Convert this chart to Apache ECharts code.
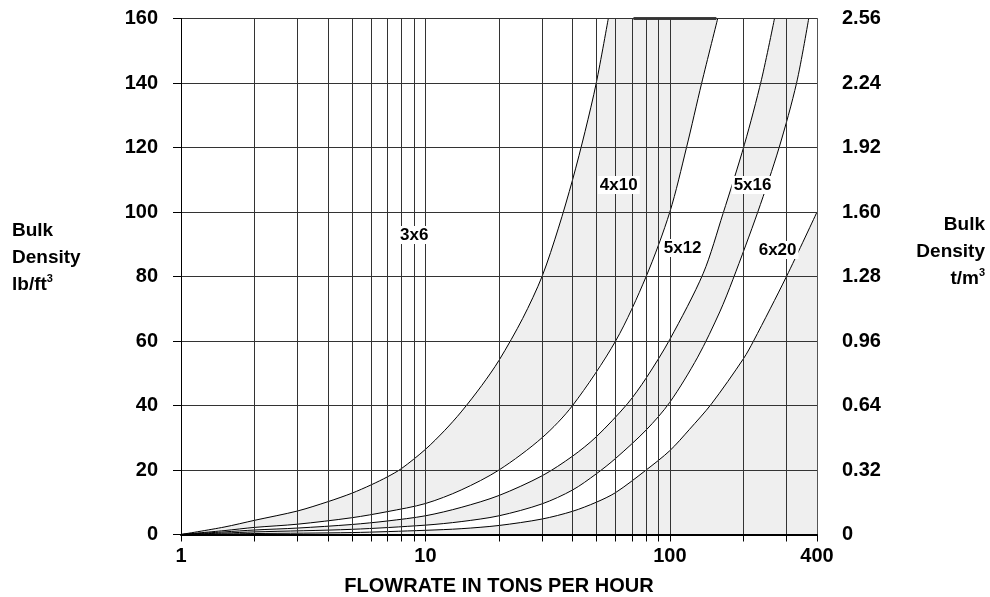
<!DOCTYPE html>
<html><head><meta charset="utf-8">
<script src="https://cdn.jsdelivr.net/npm/echarts@6/dist/echarts.min.js"></script>
<style>html,body{margin:0;padding:0;background:#fff}#c{width:990px;height:597px}</style>
</head><body><div id="c"></div>
<script>
// ---- data ----
const xGridValues = [1,2,3,4,5,6,7,8,9,10,20,30,40,50,60,70,80,90,100,200,300,400];
const xLabelValues = [1,10,100,400];
const yGridValues = [0,20,40,60,80,100,120,140,160];
const curveNames = ['3x6','4x10','5x12','5x16','6x20'];
const curve3x6 = [[1,0],[1.5,2.3],[2,4.4],[3,7.3],[4,10.2],[5,12.8],[6,15.4],[7,17.9],[8,20.5],[10,26.4],[12,32.3],[14,38],[17,46.2],[20,54],[25,67],[30,80],[35,95],[40,110],[45,125],[50,140],[56,160]];
const curve4x10 = [[1,0],[1.5,1.2],[2,2.2],[3,3.2],[5,5.2],[7,7.1],[10,9.6],[14,13.8],[20,20],[30,30],[40,40],[60,60],[80,80],[100,100],[117,120],[135,140],[157,160]];
const curve5x12 = [[1,0],[1.5,0.8],[2,1.4],[3,2.0],[5,3.1],[7,4.2],[10,5.8],[14,8.4],[20,12.1],[30,18.2],[40,24.3],[50,30.3],[67,40.5],[80,48.5],[100,60.5],[137,81],[165,99.5],[202,121],[237,141],[268,160]];
const curve5x16 = [[1,0],[1.5,0.45],[2,0.8],[5,1.6],[10,2.9],[14,4.0],[20,5.8],[30,9.5],[40,13.8],[50,18.8],[60,23.6],[80,32.4],[100,41],[130,55],[160,69],[181,79],[229,100],[280,120],[330,140],[370,160]];
const curve6x20 = [[1,0],[2,0.3],[5,0.6],[10,1.3],[14,1.8],[20,2.8],[30,4.8],[40,7.2],[50,10],[60,13],[80,20],[100,26],[120,32.5],[148,40.5],[200,54.5],[220,60],[300,80],[400,100]];
const curveLabelPos = [[9.0,92.9],[61.8,108.4],[112.8,88.8],[218,108.4],[276,88.2]];
const topEdgeMark = [[71,160],[155,160]];

// ---- chart ----
const chart = echarts.init(document.getElementById('c'), null, {renderer:'canvas'});
const curves = [curve3x6, curve4x10, curve5x12, curve5x16, curve6x20];
const FONT = '"Liberation Sans", Arial, Helvetica, sans-serif';
const FILL = '#efefef';
const GRID = '#333';

function band(points){
  return {
    type:'custom', coordinateSystem:'cartesian2d', silent:true, z:1, clip:true,
    data:[[1,0]], animation:false,
    renderItem:(params, api)=>({type:'polygon', shape:{points: points.map(p=>api.coord(p))}, style:{fill:FILL, stroke:null}})
  };
}
const bandAB = curve3x6.concat(curve4x10.slice().reverse());
const bandCD = curve5x12.concat(curve5x16.slice().reverse());
const bandE = curve6x20.concat([[400,0]]);

const series = [band(bandAB), band(bandCD), band(bandE)];
series.push({
  type:'line', data:[[1,0]], symbol:'none', lineStyle:{opacity:0}, z:2, silent:true, animation:false,
  markLine:{silent:true, symbol:['none','none'], animation:false, label:{show:false},
    lineStyle:{color:GRID, width:1, type:'solid'},
    data: xGridValues.map(v=>({xAxis:v})).concat(yGridValues.map(v=>({yAxis:v})))}
});
curves.forEach((c,i)=>{
  series.push({type:'line', name:curveNames[i], data:c, symbol:'none', smooth:0.3, z:3, animation:false, silent:true,
    lineStyle:{color:'#000', width:1}});
});
series.push({type:'line', data:topEdgeMark, symbol:'none', z:4, animation:false, silent:true, clip:false,
  lineStyle:{color:'#000', width:2.5}});
series.push({
  type:'scatter', z:5, symbolSize:0, silent:true, animation:false,
  itemStyle:{opacity:1},
  data: curveLabelPos.map((p,i)=>({value:p, name:curveNames[i]})),
  label:{show:true, position:'inside', formatter:p=>p.name, color:'#000', opacity:1, fontFamily:FONT, fontWeight:'bold', fontSize:17,
    backgroundColor:'#fff', padding:[1,2,0,2]}
});

chart.setOption({
  animation:false,
  grid:{left:181, right:173, top:18.5, bottom:62.5},
  xAxis:{type:'log', logBase:10, min:1, max:400, z:10,
    axisLine:{show:true, lineStyle:{color:'#000', width:2}},
    axisTick:{show:true, length:7, customValues:xGridValues, lineStyle:{color:'#000'}},
    axisLabel:{customValues:xLabelValues, margin:12, color:'#000', fontFamily:FONT, fontWeight:'bold', fontSize:20, formatter:v=>String(v)},
    splitLine:{show:false}, minorTick:{show:false}},
  yAxis:[
    {type:'value', min:0, max:160, interval:20, position:'left', z:10,
      axisLine:{show:true, lineStyle:{color:'#000', width:1}},
      axisTick:{show:true, length:8, lineStyle:{color:'#000'}},
      axisLabel:{margin:23, color:'#000', fontFamily:FONT, fontWeight:'bold', fontSize:20},
      splitLine:{show:false}},
    {type:'value', min:0, max:2.56, interval:0.32, position:'right', z:10,
      axisLine:{show:true, lineStyle:{color:'#555', width:1}},
      axisTick:{show:false},
      axisLabel:{margin:25, color:'#000', fontFamily:FONT, fontWeight:'bold', fontSize:20,
        formatter:v=> v===0 ? '0' : v.toFixed(2)},
      splitLine:{show:false}}
  ],
  graphic:[
    {type:'text', x:499, y:586, z:20, style:{text:'FLOWRATE IN TONS PER HOUR', fill:'#000', font:'bold 20px '+FONT, textAlign:'center', textVerticalAlign:'middle'}},
    {type:'text', x:12, y:258, z:20, style:{text:'{b|Bulk}\n{b|Density}\n{b|lb/ft}{s|3}', textAlign:'left', textVerticalAlign:'middle', fill:'#000',
      rich:{b:{font:'bold 19px '+FONT, lineHeight:27, fill:'#000'}, s:{font:'bold 11px '+FONT, lineHeight:27, padding:[0,0,12,0], fill:'#000'}}}},
    {type:'text', x:985, y:252, z:20, style:{text:'{b|Bulk}\n{b|Density}\n{b|t/m}{s|3}', textAlign:'right', textVerticalAlign:'middle', fill:'#000',
      rich:{b:{font:'bold 19px '+FONT, lineHeight:27, fill:'#000', align:'right'}, s:{font:'bold 11px '+FONT, lineHeight:27, padding:[0,0,12,0], fill:'#000'}}}}
  ],
  series: series
});
</script>
</body></html>
